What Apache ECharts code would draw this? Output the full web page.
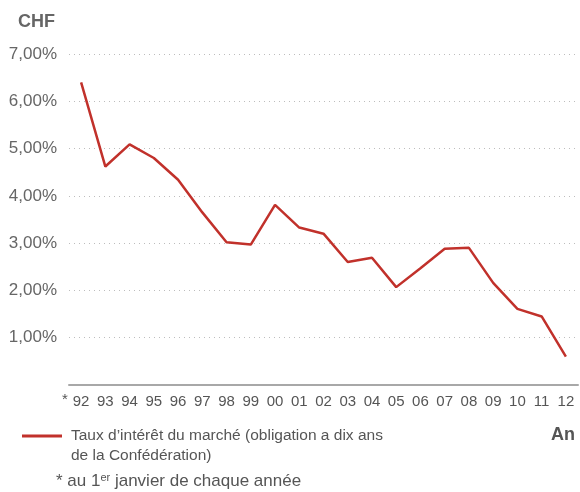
<!DOCTYPE html>
<html>
<head>
<meta charset="utf-8">
<script src="https://cdn.jsdelivr.net/npm/echarts@6/dist/echarts.min.js"></script>
<style>
html,body{margin:0;padding:0;background:#fff;}
#chart{width:580px;height:492px;}
</style>
</head>
<body>
<div id="chart"></div>
<script>
var years = ['92','93','94','95','96','97','98','99','00','01','02','03','04','05','06','07','08','09','10','11','12'];
var rates = [6.40, 4.62, 5.09, 4.80, 4.34, 3.65, 3.02, 2.97, 3.81, 3.33, 3.20, 2.60, 2.69, 2.07, 2.47, 2.88, 2.90, 2.16, 1.61, 1.45, 0.60];
var yTicks = [0, 1, 2, 3, 4, 5, 6, 7];
var seriesName = 'Taux d\u2019intérêt du marché (obligation a dix ans\nde la Confédération)';

var chart = echarts.init(document.getElementById('chart'));
var font = '"Liberation Sans", Arial, sans-serif';

var option = {
    backgroundColor: '#fff',
    animation: false,
    textStyle: { fontFamily: font },
    grid: { left: 69, right: 2, top: 54, bottom: 107 },
    xAxis: {
        type: 'category',
        data: years,
        boundaryGap: true,
        axisLine: { lineStyle: { color: '#a8a8a8', width: 2 } },
        axisTick: { show: false },
        axisLabel: { color: '#555', fontSize: 15, margin: 9, interval: 0, fontFamily: font }
    },
    yAxis: {
        type: 'value',
        min: yTicks[0],
        max: yTicks[yTicks.length - 1],
        interval: 1,
        axisLine: { show: false },
        axisTick: { show: false },
        axisLabel: {
            color: '#666', fontSize: 17, margin: 12, fontFamily: font,
            formatter: function (v) { return v === 0 ? '' : v.toFixed(2).replace('.', ',') + '%'; }
        },
        splitLine: { lineStyle: { color: '#bdbdbd', type: [1, 4], width: 1 } }
    },
    series: [{
        name: seriesName,
        type: 'line',
        data: rates,
        symbol: 'none',
        lineStyle: { color: '#c1312b', width: 2.5 }
    }],
    graphic: [
        { type: 'text', left: 18, top: 13, style: { text: 'CHF', font: 'bold 18px ' + font, fill: '#666' } },
        { type: 'text', left: 62, top: 392, style: { text: '*', font: '15px ' + font, fill: '#555' } },
        { type: 'line', shape: { x1: 22, y1: 436, x2: 62, y2: 436 }, style: { stroke: '#c1312b', lineWidth: 3 } },
        { type: 'text', left: 71, top: 426, style: { text: seriesName, font: '15.5px ' + font, fill: '#555', lineHeight: 19.5 } },
        { type: 'text', right: 5, top: 426, style: { text: 'An', font: 'bold 18px ' + font, fill: '#555' } },
        {
            type: 'text', left: 56, top: 472,
            style: {
                text: '* au 1{sup|er} janvier de chaque année',
                font: '17px ' + font, fill: '#555',
                rich: { sup: { fontSize: 11, fill: '#555', padding: [0, 0, 8, 0], fontFamily: font } }
            }
        }
    ]
};
chart.setOption(option);
</script>
</body>
</html>
